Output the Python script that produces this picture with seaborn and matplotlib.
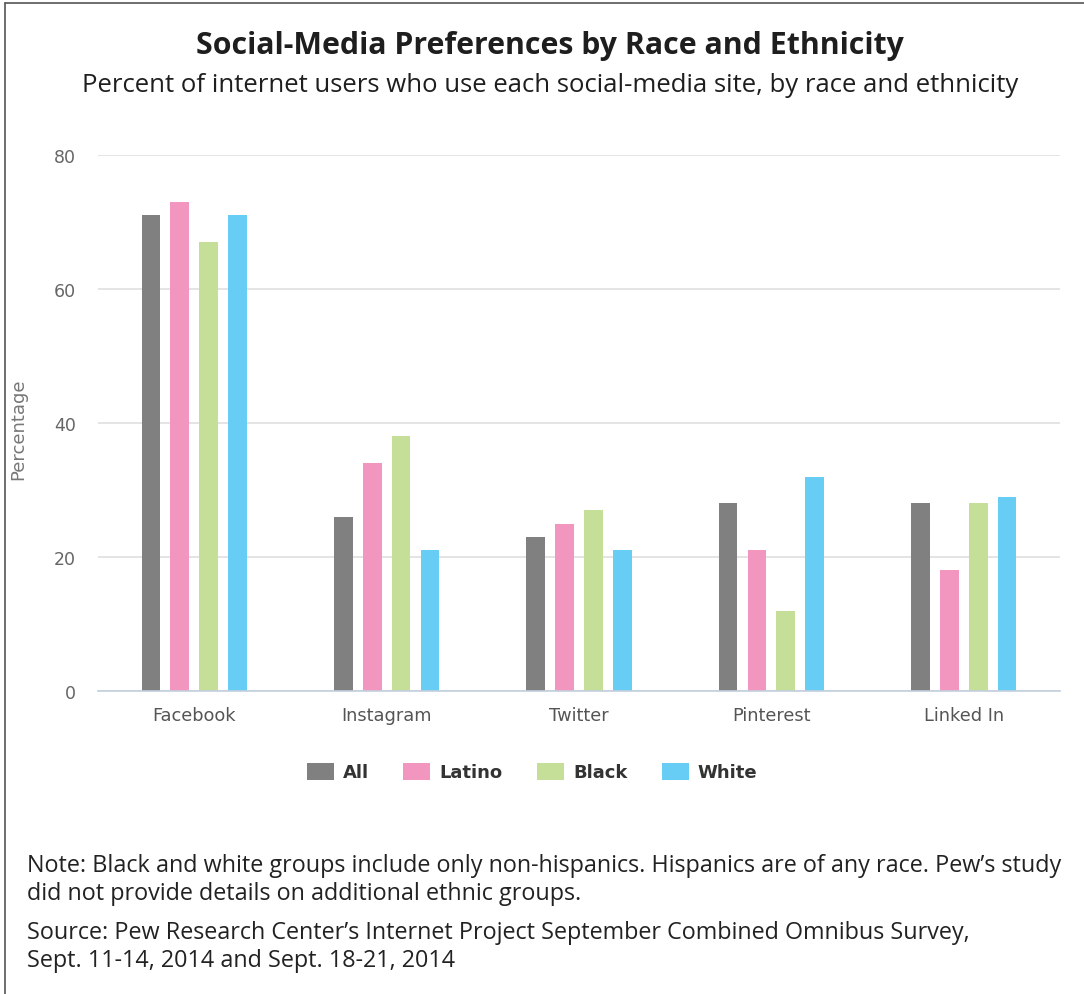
import matplotlib
matplotlib.use("Agg")
import matplotlib.pyplot as plt
from matplotlib.lines import Line2D
from matplotlib.patches import Patch
import seaborn as sns
import pandas as pd

# Survey figures: percent of internet users on each site
sites = ["Facebook", "Instagram", "Twitter", "Pinterest", "Linked In"]
groups = ["All", "Latino", "Black", "White"]
all_users = [71, 26, 23, 28, 28]
latino = [73, 34, 25, 21, 18]
black = [67, 38, 27, 12, 28]
white = [71, 21, 21, 32, 29]
y_ticks = [0, 20, 40, 60, 80]

title = "Social-Media Preferences by Race and Ethnicity"
subtitle = "Percent of internet users who use each social-media site, by race and ethnicity"
note_lines = ["Note: Black and white groups include only non-hispanics. Hispanics are of any race. Pew\u2019s study",
              "did not provide details on additional ethnic groups."]
source_lines = ["Source: Pew Research Center\u2019s Internet Project September Combined Omnibus Survey,",
                "Sept. 11-14, 2014 and Sept. 18-21, 2014"]

colors = {"All": "#808080", "Latino": "#f296c0", "Black": "#c6df98", "White": "#67cdf5"}

values = {"All": all_users, "Latino": latino, "Black": black, "White": white}
df = pd.DataFrame(
    [(s, g, values[g][i]) for i, s in enumerate(sites) for g in groups],
    columns=["site", "group", "pct"],
)

sns.set_theme(style="white")
plt.rcParams["font.family"] = ["DejaVu Sans"]

W, H = 1084, 995
fig = plt.figure(figsize=(W / 100, H / 100), dpi=100)
fig.patch.set_facecolor("white")

ax = fig.add_axes([98 / W, 1 - 692 / H, (1060 - 98) / W, (692 - 156) / H])
sns.barplot(data=df, x="site", y="pct", hue="group", order=sites, hue_order=groups,
            palette=colors, width=0.6, gap=0.35, linewidth=0, saturation=1,
            errorbar=None, legend=False, ax=ax)

ax.set_xlim(-0.5, len(sites) - 0.5)
ax.set_ylim(0, 80)
ax.set_yticks(y_ticks)
ax.yaxis.grid(True, color="#dddddd", linewidth=1.1)
ax.set_axisbelow(True)
for side in ["top", "right", "left"]:
    ax.spines[side].set_visible(False)
ax.spines["bottom"].set_color("#c3cfdf")
ax.spines["bottom"].set_linewidth(1.2)

ax.tick_params(axis="y", length=0, pad=16, labelsize=12.5, labelcolor="#666666")
ax.tick_params(axis="x", which="major", length=0, pad=11, labelsize=12.8, labelcolor="#555555")
ax.set_xticks([i - 0.5 for i in range(len(sites) + 1)], minor=True)
ax.tick_params(axis="x", which="minor", length=13, width=1.2, color="#c3cfdf", direction="out")
ax.set_xlabel("")
ax.set_ylabel("Percentage", fontsize=13, color="#777777")
ax.yaxis.set_label_coords((27 - 98) / (1060 - 98), 0.49)

handles = [Patch(facecolor=colors[g], edgecolor="none", label=g) for g in groups]
fig.legend(handles=handles, loc="center", bbox_to_anchor=(532 / W, 1 - 773 / H), ncol=4,
           frameon=False, handlelength=1.5, handleheight=1.1, handletextpad=0.5,
           columnspacing=1.9, prop={"weight": "bold", "size": 13}, labelcolor="#333333")

fig.text(550 / W, 1 - 46 / H, title, ha="center", va="center", fontsize=21.8,
         fontweight="bold", color="#1e1e1e", family="Open Sans")
fig.text(550 / W, 1 - 86 / H, subtitle, ha="center", va="center", fontsize=18.5,
         color="#1e1e1e", family="Open Sans")
for line, base in zip(note_lines + source_lines, [872, 900, 939, 967]):
    fig.text(27 / W, 1 - base / H, line, ha="left", va="baseline", fontsize=16.8,
             color="#222222", family="Open Sans")

# frame lines along the top and left edges
fig.add_artist(Line2D([5 / W, 1], [1 - 4 / H, 1 - 4 / H], color="#555555", linewidth=1.2))
fig.add_artist(Line2D([5 / W, 5 / W], [0, 1 - 4 / H], color="#555555", linewidth=1.2))

fig.savefig("out.png", dpi=100, facecolor="white")
